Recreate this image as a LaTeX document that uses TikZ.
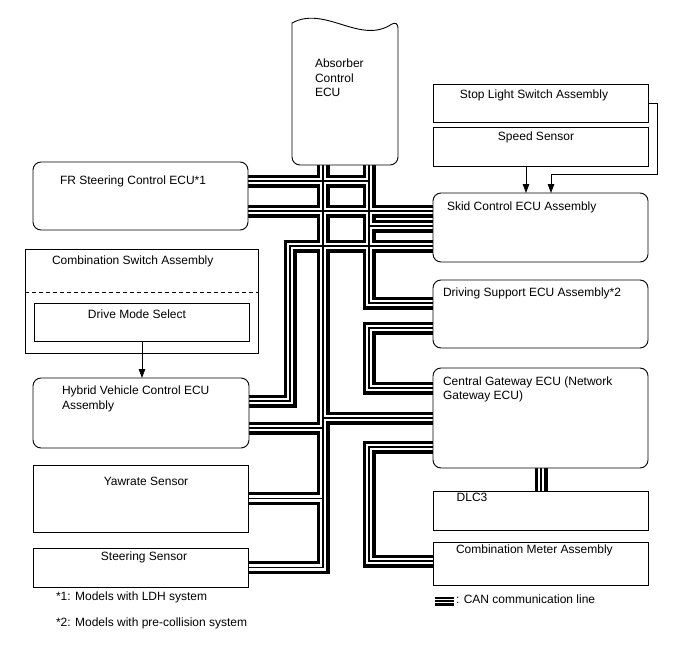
\documentclass[tikz,border=0pt]{standalone}
\usepackage{fontspec}
\setmainfont{Liberation Sans}
\usetikzlibrary{arrows.meta}
\pgfdeclarelayer{bg}
\pgfsetlayers{bg,main}
\newcommand\canroutes{%
 (aTop) |- (ster.east)
 (yaw.east) -- (yaw.east -| aTop)
 (cTop) |- (dsaA)
 (frA) -- (frA -| cTop)
 (frB) -- (frB -| skid.west)
 (skidB) -- (skidB -| cTop)
 (hvA) -| (bCorner) -- (bCorner -| skid.west)
 (dsaB) -- (dsaB -| cTop) |- (cgwA)
 (hvB) -- (hvB -| aTop)
 (cgwB) -- (cgwB -| aTop)
 (cgwC) -- (cgwC -| cTop) |- (meterA)
 (dlcTop) -- (dlcTop |- dlc.north)
}
\begin{document}
\begin{tikzpicture}[x=1bp,y=-1bp,
  box/.style={draw, line width=0.9bp, fill=white, inner sep=0pt, outer sep=0pt, anchor=north west},
  ecu/.style={box, rounded corners=8bp},
  lbl/.style={inner sep=0pt, outer sep=0pt, font=\fontsize{12bp}{14.5bp}\selectfont},
  canout/.style={line width=13bp, line join=miter, black},
  canmid/.style={line width=6.8bp, line join=miter, white},
  canin/.style={line width=1.2bp, line join=miter, black},
  arr/.style={line width=0.9bp, -{Triangle[length=9bp,width=6.5bp]}},
]
\useasboundingbox (0,0) rectangle (688,658);

% ---------- boxes ----------
\node[inner sep=0pt, outer sep=0pt, anchor=north west, minimum width=106bp, minimum height=145bp] (abs) at (292,20) {};
\node[ecu, minimum width=215bp, minimum height=68bp] (fr) at (33,162) {};
\node[box, minimum width=233bp, minimum height=104bp] (cs) at (25,249) {};
\node[box, minimum width=215bp, minimum height=38bp] (dms) at (34,303) {};
\node[ecu, minimum width=216bp, minimum height=70bp] (hv) at (33,378) {};
\node[box, minimum width=215bp, minimum height=67bp] (yaw) at (33,465) {};
\node[box, minimum width=215bp, minimum height=39bp] (ster) at (33,548) {};
\node[box, minimum width=215bp, minimum height=38bp] (stop) at (433,84) {};
\node[box, minimum width=215bp, minimum height=39bp] (speed) at (433,127) {};
\node[ecu, minimum width=215bp, minimum height=69bp] (skid) at (433,193) {};
\node[ecu, minimum width=215bp, minimum height=68bp] (dsa) at (433,280) {};
\node[ecu, minimum width=215bp, minimum height=100bp] (cgw) at (433,368) {};
\node[box, minimum width=215bp, minimum height=39bp] (dlc) at (433,491) {};
\node[box, minimum width=215bp, minimum height=43bp] (meter) at (433,542) {};

% absorber ECU outline (wavy top)
\draw[line width=0.9bp, fill=white, rounded corners=8bp]
  ([yshift=-3bp]abs.north west) -- (abs.south west) -- (abs.south east) -- (abs.north east)
  [sharp corners] .. controls (360,45) and (325,5) .. ([yshift=-3bp]abs.north west) -- cycle;

% dashed divider
\draw[line width=0.9bp, dash pattern=on 4bp off 3bp] ([yshift=-43bp]cs.north west) -- ([yshift=-43bp]cs.north east);

% ---------- CAN coordinates ----------
\coordinate (aTop) at (323,165);
\coordinate (cTop) at (369,165);
\coordinate (bCorner) at (290,246);
\coordinate (frA) at ([yshift=-19bp]fr.north east);
\coordinate (frB) at ([yshift=-49bp]fr.north east);
\coordinate (skidB) at ([yshift=-33bp]skid.north west);
\coordinate (dsaA) at ([yshift=-23bp]dsa.north west);
\coordinate (dsaB) at ([yshift=-48bp]dsa.north west);
\coordinate (hvA) at ([yshift=-23bp]hv.north east);
\coordinate (hvB) at ([yshift=-50bp]hv.north east);
\coordinate (cgwA) at ([yshift=-20bp]cgw.north west);
\coordinate (cgwB) at ([yshift=-50bp]cgw.north west);
\coordinate (cgwC) at ([yshift=-79bp]cgw.north west);
\coordinate (meterA) at ([yshift=-19bp]meter.north west);
\coordinate (dlcTop) at ([xshift=108bp]cgw.south west);
\coordinate (lgA) at (435,601);
\coordinate (lgB) at (454,601);

\begin{pgfonlayer}{bg}
  \fill[white] (0,0) rectangle (688,658);
  \draw[canout] \canroutes;
  \draw[canmid] \canroutes;
  \draw[canin] \canroutes;
\end{pgfonlayer}

% legend icon
\draw[line width=9bp] (lgA) -- (lgB);
\draw[line width=4bp, white] (lgA) -- (lgB);
\draw[line width=1.6bp] (lgA) -- (lgB);

% ---------- arrows ----------
\coordinate (sl1) at (657,174);
\coordinate (sl2) at (551,174);
\draw[arr] (stop.east) -| (sl1) -- (sl2) -- (sl2 |- skid.north);
\draw[arr] ([xshift=93bp]speed.south west) -- ([xshift=93bp]skid.north west);
\draw[arr] ([xshift=108bp]dms.south west) -- ([xshift=109bp]hv.north west);

% ---------- texts ----------
\node[lbl, align=left, anchor=west] (tabs) at (315,78) {Absorber\\Control\\ECU};
\node[lbl, anchor=west] (tfr) at (60,181) {FR Steering Control ECU*1};
\node[lbl, anchor=west] (tcs) at (52,261) {Combination Switch Assembly};
\node[lbl] (tdms) at (137,314) {Drive Mode Select};
\node[lbl, align=left, anchor=west] (thv) at (62,399) {Hybrid Vehicle Control ECU\\Assembly};
\node[lbl] (tyaw) at (146,481) {Yawrate Sensor};
\node[lbl] (tster) at (144,557) {Steering Sensor};
\node[lbl] (tstop) at (534,95) {Stop Light Switch Assembly};
\node[lbl] (tspeed) at (536,137) {Speed Sensor};
\node[lbl, anchor=west] (tskid) at (447,207) {Skid Control ECU Assembly};
\node[lbl, anchor=west] (tdsa) at (443,293) {Driving Support ECU Assembly*2};
\node[lbl, align=left, anchor=west] (tcgw) at (443,389.5) {Central Gateway ECU (Network\\Gateway ECU)};
\node[lbl] (tdlc) at (472,497) {DLC3};
\node[lbl, anchor=west] (tmeter) at (456,550) {Combination Meter Assembly};
\node[lbl, anchor=west] (tn1) at (56,597) {*1: Models with LDH system};
\node[lbl, anchor=west] (tn2) at (56,623) {*2: Models with pre-collision system};
\node[lbl, anchor=west] (tlg) at (456,599) {: CAN communication line};
\end{tikzpicture}
\end{document}
